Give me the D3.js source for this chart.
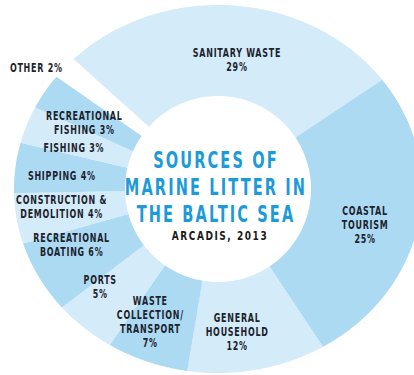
<!DOCTYPE html>
<html>
<head>
<meta charset="utf-8">
<script src="https://cdn.jsdelivr.net/npm/d3@7"></script>
<style>
  html, body { margin: 0; padding: 0; background: #fff; }
  svg { display: block; }
  text { font-family: "DejaVu Sans Condensed", "Liberation Sans Narrow", sans-serif; }
</style>
</head>
<body>
<div id="chart"></div>
<script>
// Sources of marine litter in the Baltic Sea (Arcadis, 2013), clockwise from the top
const sources = ['SANITARY WASTE', 'COASTAL TOURISM', 'GENERAL HOUSEHOLD', 'WASTE COLLECTION/TRANSPORT',
    'PORTS', 'RECREATIONAL BOATING', 'CONSTRUCTION & DEMOLITION', 'SHIPPING', 'FISHING',
    'RECREATIONAL FISHING', 'OTHER'];
const shares = [29, 25, 12, 7, 5, 6, 4, 4, 3, 3, 2];
// how each label is broken into lines (last line carries the percentage)
const labelLines = [
    ['SANITARY WASTE', '29%'],
    ['COASTAL', 'TOURISM', '25%'],
    ['GENERAL', 'HOUSEHOLD', '12%'],
    ['WASTE', 'COLLECTION/', 'TRANSPORT', '7%'],
    ['PORTS', '5%'],
    ['RECREATIONAL', 'BOATING 6%'],
    ['CONSTRUCTION &', 'DEMOLITION 4%'],
    ['SHIPPING 4%'],
    ['FISHING 3%'],
    ['RECREATIONAL', 'FISHING 3%'],
    ['OTHER 2%']
];
const titleLines = ['SOURCES OF', 'MARINE LITTER IN', 'THE BALTIC SEA'];
const credit = 'ARCADIS, 2013';

const W = 414, H = 375;
const cx = 218, cy = 189;
const innerR = 93;
const outerA = 204, outerB = 184;   // outer edge is slightly wider than tall
const light = '#d4ebf9', dark = '#acdaf3';

const svg = d3.select('#chart').append('svg')
    .attr('width', W).attr('height', H);

const g = svg.append('g').attr('transform', `translate(${cx},${cy})`);

const data = sources.map((s, i) => ({ name: s, value: shares[i], lines: labelLines[i] }));

const pie = d3.pie()
    .sort(null)
    .value(d => d.value)
    .startAngle(-48 * Math.PI / 180)
    .endAngle(312 * Math.PI / 180);

const arcs = pie(data);

// radius of the outer ellipse in direction a (d3 angle: 0 at top, clockwise)
function outerR(a) {
    const s = Math.sin(a) / outerA, c = Math.cos(a) / outerB;
    return 1 / Math.sqrt(s * s + c * c);
}

const band = d3.areaRadial()
    .angle(a => a)
    .innerRadius(innerR)
    .outerRadius(a => outerR(a));

function sliceAngles(d) {
    const n = Math.max(2, Math.ceil((d.endAngle - d.startAngle) / 0.01));
    return d3.range(n + 1).map(k => d.startAngle + (d.endAngle - d.startAngle) * k / n);
}

// slices (the "other" slice is left blank)
g.selectAll('path.slice')
    .data(arcs.filter(d => d.data.name !== 'OTHER'))
    .join('path')
    .attr('class', 'slice')
    .attr('d', d => band(sliceAngles(d)))
    .attr('fill', (d, i) => i % 2 === 0 ? light : dark);

// labels: centroid on a mid-band arc, then nudged to where the original sets them
const labelArc = d3.arc().innerRadius(150).outerRadius(150);
const nudge = {
    'SANITARY WASTE': [8, 21],
    'COASTAL TOURISM': [0, 6],
    'GENERAL HOUSEHOLD': [-12, -4],
    'WASTE COLLECTION/TRANSPORT': [-11, -6],
    'PORTS': [-14, -10],
    'RECREATIONAL BOATING': [-12, -11],
    'CONSTRUCTION & DEMOLITION': [-8, -4],
    'SHIPPING': [-7, 3],
    'FISHING': [-2, 7],
    'RECREATIONAL FISHING': [-3, 8],
    'OTHER': [-14, 12]
};
const lineH = 14;

arcs.forEach(d => {
    let [x, y] = labelArc.centroid(d);
    if (d.data.name === 'OTHER') {
        const a = (d.startAngle + d.endAngle) / 2;
        x = 214 * Math.sin(a); y = -214 * Math.cos(a);
    }
    const [nx, ny] = nudge[d.data.name] || [0, 0];
    x += nx; y += ny;
    const lines = d.data.lines;
    const top = y - (lines.length - 1) * lineH / 2 + 4;
    lines.forEach((ln, li) => {
        g.append('text')
            .attr('transform', `translate(${x},${top + li * lineH}) scale(0.74,1)`)
            .attr('text-anchor', 'middle')
            .attr('font-size', '12px')
            .attr('font-weight', 700)
            .attr('letter-spacing', '1px')
            .attr('fill', '#1c232d')
            .text(ln);
    });
});

// centre title
titleLines.forEach((t, i) => {
    g.append('text')
        .attr('transform', `translate(-2,${-21 + i * 27}) scale(0.705,1)`)
        .attr('text-anchor', 'middle')
        .attr('font-size', '23px')
        .attr('font-weight', 700)
        .attr('letter-spacing', '3px')
        .attr('fill', '#1d9ad8')
        .text(t);
});

g.append('text')
    .attr('transform', `translate(2,51) scale(0.77,1)`)
    .attr('text-anchor', 'middle')
    .attr('font-size', '13px')
    .attr('font-weight', 700)
    .attr('letter-spacing', '2px')
    .attr('fill', '#1a1a1a')
    .text(credit);
</script>
</body>
</html>
